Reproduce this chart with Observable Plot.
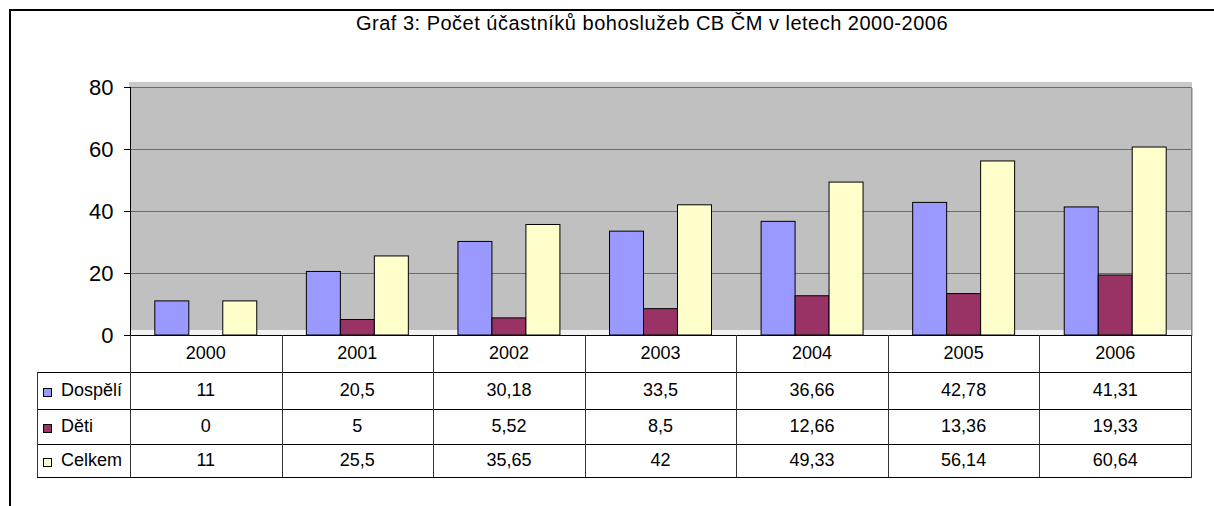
<!DOCTYPE html>
<html>
<head>
<meta charset="utf-8">
<script src="https://cdn.jsdelivr.net/npm/d3@7"></script>
<script src="https://cdn.jsdelivr.net/npm/@observablehq/plot@0.6"></script>
<style>
  html, body { margin: 0; padding: 0; background: #fff; overflow: hidden; }
  #wrap { position: relative; width: 1214px; height: 506px; font-family: "Liberation Sans", Arial, sans-serif; color: #000; overflow: hidden; }
  #border { position: absolute; left: 9px; top: 9px; width: 1400px; height: 700px; border-top: 2px solid #000; border-left: 2px solid #000; }
  #title { position: absolute; top: 13px; left: 0; width: 1304px; text-align: center; font-size: 20px; line-height: 20px; letter-spacing: 0.5px; white-space: nowrap; }
  #chart { position: absolute; left: 0; top: 0; }
  .cell { position: absolute; display: flex; align-items: center; justify-content: center; font-size: 18px; white-space: nowrap; }
  .legcell { position: absolute; display: flex; align-items: center; font-size: 18px; white-space: nowrap; }
  .sw { width: 7px; height: 7px; border: 1px solid #000; margin: 3px 9px 0 6px; }
  .hl { position: absolute; height: 1px; background: #000; }
  .vl { position: absolute; width: 1px; background: #333; }
</style>
</head>
<body>
<div id="wrap">
  <div id="border"></div>
  <div id="title">Graf 3: Počet účastníků bohoslužeb CB ČM v letech 2000-2006</div>
  <div id="chart"></div>
</div>
<script>
// ---- data ----
const years = ["2000", "2001", "2002", "2003", "2004", "2005", "2006"];
const seriesNames = ["Dospělí", "Děti", "Celkem"];
const dospeli = [11, 20.5, 30.18, 33.5, 36.66, 42.78, 41.31];
const deti = [0, 5, 5.52, 8.5, 12.66, 13.36, 19.33];
const celkem = [11, 25.5, 35.65, 42, 49.33, 56.14, 60.64];
const seriesColors = ["#9999FF", "#993366", "#FFFFCC"];
const yTicks = [0, 20, 40, 60, 80];

const seriesValues = [dospeli, deti, celkem];
const rows = seriesNames.flatMap((s, i) => years.map((y, j) => ({year: y, series: s, value: seriesValues[i][j]})));

const chart = Plot.plot({
  width: 1214,
  height: 506,
  marginTop: 87,
  marginBottom: 171,
  marginLeft: 130,
  marginRight: 23,
  fx: {domain: years, padding: 0, round: false, axis: null, label: null},
  x: {domain: seriesNames, paddingInner: 0, paddingOuter: 0.73, round: false, axis: null, label: null},
  y: {domain: [0, 80], label: null},
  color: {domain: seriesNames, range: seriesColors},
  style: {fontFamily: "'Liberation Sans', Arial, sans-serif", color: "#000", background: "transparent", overflow: "visible"},
  marks: [
    Plot.frame({fill: "#c0c0c0", stroke: null, insetLeft: -1, insetRight: -1, shapeRendering: "crispEdges"}),
    Plot.ruleY([80], {dy: -3, strokeWidth: 5, stroke: "#c9c9c9", insetLeft: -1, insetRight: -1, shapeRendering: "crispEdges"}),
    Plot.ruleY([0], {dy: -3, strokeWidth: 6, stroke: "#f2f2f2", insetLeft: -1, insetRight: -1, shapeRendering: "crispEdges"}),
    Plot.ruleY(yTicks.filter(t => t > 0), {stroke: "#6b6b6b", insetLeft: -1, insetRight: -1, shapeRendering: "crispEdges"}),
    Plot.frame({fx: () => years[years.length - 1], anchor: "right", stroke: "#8a8a8a"}),
    Plot.frame({fx: () => years[0], anchor: "left", stroke: "#000"}),
    Plot.barY(rows, {fx: "year", x: "series", y: "value", fill: "series", stroke: "#000", strokeWidth: 1}),
    Plot.ruleY([0], {stroke: "#000", insetLeft: -1, insetRight: -1, shapeRendering: "crispEdges"}),
    Plot.axisY({ticks: yTicks, tickSize: 6, tickPadding: 11, fontSize: 22, tickFormat: d => String(d), label: null})
  ]
});
document.getElementById("chart").appendChild(chart);

// ---- data table below the chart, aligned with the fx scale ----
const wrap = document.getElementById("wrap");
const fxs = chart.scale("fx");
const bw = fxs.bandwidth;
const left0 = fxs.apply(years[0]);
const right0 = fxs.apply(years[years.length - 1]) + bw;
const tableLeft = 37;
const rowTops = [335, 372, 409, 444];
const rowHeights = [37, 37, 35, 33];
const tableBottom = rowTops[3] + rowHeights[3];
const fmt = v => String(v).replace(".", ",");

function add(cls, css, html) {
  const d = document.createElement("div");
  d.className = cls;
  Object.assign(d.style, css);
  if (html !== undefined) d.innerHTML = html;
  wrap.appendChild(d);
  return d;
}

// header row: years
years.forEach(y => {
  add("cell", {left: fxs.apply(y) + "px", top: rowTops[0] + "px", width: bw + "px", height: rowHeights[0] + "px"}, y);
});
// data rows
seriesNames.forEach((s, i) => {
  const top = rowTops[i + 1], h = rowHeights[i + 1];
  const lc = add("legcell", {left: tableLeft + "px", top: top + "px", width: (left0 - tableLeft) + "px", height: h + "px"});
  const sw = document.createElement("div");
  sw.className = "sw";
  sw.style.background = seriesColors[i];
  lc.appendChild(sw);
  lc.appendChild(document.createTextNode(s));
  years.forEach((y, j) => {
    add("cell", {left: fxs.apply(y) + "px", top: top + "px", width: bw + "px", height: h + "px"}, fmt(seriesValues[i][j]));
  });
});
// horizontal lines
rowTops.slice(1).concat([tableBottom]).forEach(t => {
  add("hl", {left: tableLeft + "px", top: t + "px", width: (right0 - tableLeft + 1) + "px"});
});
// vertical lines
years.forEach(y => {
  add("vl", {left: Math.round(fxs.apply(y)) + "px", top: rowTops[0] + "px", height: (tableBottom - rowTops[0]) + "px"});
});
add("vl", {left: Math.round(right0) + "px", top: rowTops[0] + "px", height: (tableBottom - rowTops[0] + 1) + "px"});
add("vl", {left: tableLeft + "px", top: rowTops[1] + "px", height: (tableBottom - rowTops[1]) + "px"});
</script>
</body>
</html>
